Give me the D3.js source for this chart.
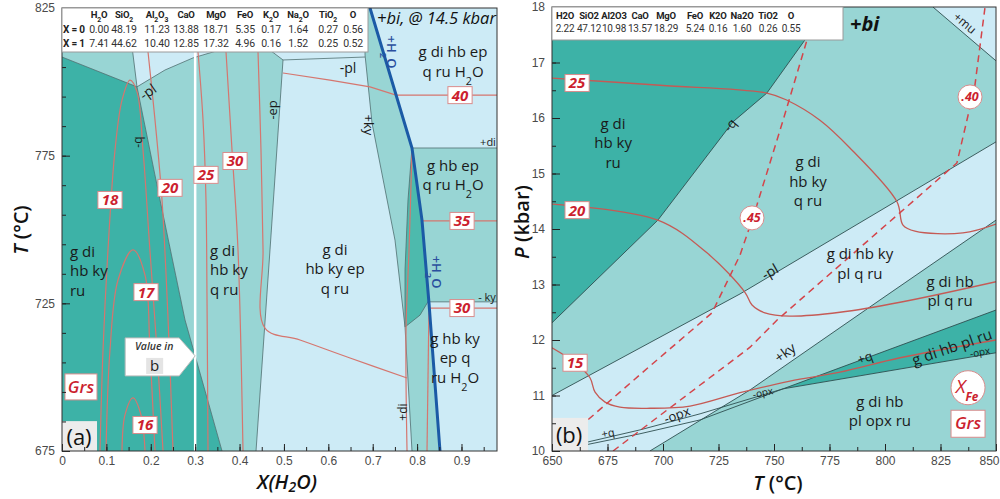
<!DOCTYPE html>
<html>
<head>
<meta charset="utf-8">
<script src="https://d3js.org/d3.v7.min.js"></script>
<style>
  body { margin: 0; background: #fff; }
  svg { display: block; }
  text { font-family: "Open Sans", "Noto Sans", sans-serif; }
  .tick text { font-family: "Liberation Sans", Arial, sans-serif; font-size: 12px; fill: #4a4a4a; }
  .tbl text { font-family: Roboto, "Liberation Sans", sans-serif; letter-spacing: -0.2px; }
</style>
</head>
<body>
<svg id="chart" width="1000" height="499"></svg>
<script>
// ---- bulk compositions (tables) ----
const oxides = ["H2O","SiO2","Al2O3","CaO","MgO","FeO","K2O","Na2O","TiO2","O"];
const compX0 = ["0.00","48.19","11.23","13.88","18.71","5.35","0.17","1.64","0.27","0.56"];
const compX1 = ["7.41","44.62","10.40","12.85","17.32","4.96","0.16","1.52","0.25","0.52"];
const compB  = ["2.22","47.12","10.98","13.57","18.29","5.24","0.16","1.60","0.26","0.55"];
// table column centres (layout, px)
const colA = [99,124,157,186,216,245,271,298,328,353];
const colB = [565,589,614,640,666,695,718,742,768,791];

// ---- ticks ----
const xTicksA = d3.range(0, 10).map(i => i / 10);
const xMinorA = d3.range(0, 20).map(i => i / 20);
const yTicksA = [675, 725, 775, 825];
const yMinorA = d3.range(675, 826, 10);
const xTicksB = d3.range(650, 851, 25);
const xMinorB = d3.range(650, 851, 12.5);
const yTicksB = d3.range(10, 19, 1);
const yMinorB = d3.range(0, 17).map(i => 10 + i / 2);

// ---- panel (a) fields, [X(H2O), T] ----
const aDarkField = [[0,808.4],[0.169,798.3],[0.2208,760],[0.2771,719.4],[0.3605,675],[0,675]];
const aTopLeftField = [[0,812],[0.1577,812],[0.169,798.3],[0,808.4]];
const aMidField = [[0.169,798.3],[0.232,804],[0.2951,808.1],[0.3717,811.5],[0.4529,812.5],[0.4979,807.4],
  [0.4686,743.1],[0.4371,675],[0.3605,675],[0.2771,719.4],[0.2208,760]];
const aWedgeField = [[0.6827,825],[0.6939,825],[0.7885,777.6],[0.811,753.2],[0.8268,725.1],[0.8516,675],
  [0.7885,675],[0.7728,717],[0.7502,746.4],[0.6984,786.1],[0.6827,809.1]];
const aWedgeCore = [[0.7885,777.6],[0.802,765.1],[0.811,753.2],[0.82,739.7],[0.8268,726.1],[0.8065,721],
  [0.7728,717],[0.7728,736.3],[0.7795,760]];
const aBandField = [[0.7885,777.6],[0.98,777.6],[0.98,725.5],[0.8268,725.5],[0.811,753.2]];

const aBoundaries = [
  [[0,808.4],[0.169,798.3]],
  [[0.169,798.3],[0.2208,760],[0.2771,719.4],[0.3605,675]],
  [[0.1577,812],[0.169,798.3]],
  [[0.169,798.3],[0.232,804],[0.2951,808.1],[0.3717,811.5],[0.4529,812.5],[0.4979,807.4]],
  [[0.4979,807.4],[0.4686,743.1],[0.4371,675]],
  [[0.4979,807.4],[0.6827,808.4]],
  [[0.6827,825],[0.6827,809.1],[0.6984,786.1],[0.7502,746.4],[0.7728,717],[0.7885,675]],
  [[0.7885,777.6],[0.98,777.6]],
  [[0.8268,725.5],[0.98,725.5]],
  [[0.7885,777.6],[0.7795,760],[0.7728,736.3],[0.7728,717],[0.8065,721],[0.8268,726.1]]
];
const aH2OLine = [[0.6939,825],[0.7885,777.6],[0.811,753.2],[0.8268,725.1],[0.8516,675]];
const aValueLine = [[0.3,675],[0.3,825]];

// grossular isopleths (smooth)
const aGrs = [
  [[0.0856,675],[0.0924,709.2],[0.1036,743.1],[0.1194,776.9],[0.1352,793.8],[0.1532,800.6],[0.169,796.6],
   [0.1825,776.9],[0.198,743.1],[0.214,709.2],[0.2276,675]],
  [[0.0991,675],[0.1081,709.2],[0.1262,732.9],[0.16,743.1],[0.187,734.6],[0.198,709.2],[0.2095,675]],
  [[0.1352,675],[0.1419,687.2],[0.16,693],[0.178,687.2],[0.187,675]],
  [[0.1938,810.1],[0.2095,787.1],[0.2253,760],[0.239,719.4],[0.2501,675]],
  [[0.3064,810.1],[0.3177,787.1],[0.3244,760],[0.3267,726.1],[0.3289,675]],
  [[0.3695,810.1],[0.383,776.9],[0.3965,743.1],[0.4078,675]],
  [[0.4416,810.1],[0.4483,776.9],[0.4529,743.1],[0.4573,716.6],[0.5362,712.6],[0.6489,706.5],[0.7773,699.7]],
  [[0.7885,776.9],[0.7818,743.1],[0.775,716],[0.7773,675]],
  [[0.8268,724.4],[0.8223,675]]
];
// straight isopleths
const aGrsStraight = [
  [[0.4979,803],[0.6038,800.6],[0.6939,798.3],[0.7525,795.5],[0.98,795.5]],
  [[0.811,752.9],[0.98,752.9]],
  [[0.8268,723.4],[0.98,723.4]]
];
const aGrsLabels = [
  ["18",0.1081,760],["17",0.1893,728.8],["16",0.187,683.8],["20",0.2433,764.1],["25",0.3244,768.5],
  ["30",0.3898,773.2],["40",0.8967,795.5],["35",0.9012,752.9],["30",0.9012,723.4]
];
const aFieldLabels = [
  { lines: ["g di","hb ky","ru"], at: [0.018, 736], anchor: "start" },
  { lines: ["g di","hb ky","q ru"], at: [0.3334, 736.3], anchor: "start" },
  { lines: ["g di","hb ky ep","q ru"], at: [0.615, 736.6], anchor: "middle" },
  { lines: ["g di hb ep","q ru H2O"], at: [0.8809, 806.8], anchor: "middle" },
  { lines: ["g hb ep","q ru H2O"], at: [0.8809, 768.3], anchor: "middle" },
  { lines: ["g hb ky","ep q","ru H2O"], at: [0.8854, 706.5], anchor: "middle" }
];
const aLineLabels = [
  { t: "-pl", at: [0.1938, 796.6], rot: -35, size: 14 },
  { t: "-q", at: [0.1712, 779.6], rot: -90, size: 12 },
  { t: "-ep", at: [0.4731, 790.5], rot: -90, size: 13 },
  { t: "+ky", at: [0.6917, 785.4], rot: 90, size: 13 },
  { t: "-pl", at: [0.6444, 804.7], rot: 0, size: 14 },
  { t: "+di", at: [0.7682, 688.2], rot: -90, size: 12 },
  { t: "+di", at: [0.9597, 779.6], rot: 0, size: 11 },
  { t: "- ky", at: [0.9575, 727.1], rot: 0, size: 11 }
];
const aWaterLabels = [[0.7435, 810.1], [0.8448, 735.6]];

// ---- panel (b) fields, [T, P] ----
const bDarkField = [[650,12.31],[697.7,14.16],[731.5,15.93],[746.8,16.45],[764,17.41],[775,18],[650,18]];
const bLightBand = [[650,10],[650,11.0],[734.7,12.83],[850,15.57],[850,14.16],[797.7,12.72],[739.2,11.1],[694.1,10]];
const bWedge = [[754.1,11.12],[850,12.54],[850,11.77]];
const bMuField = [[821.6,18],[850,18],[850,17.03]];
const bBoundaries = [
  [[650,12.31],[697.7,14.16],[731.5,15.93],[746.8,16.45],[764,17.41],[775,18]],
  [[650,11.0],[734.7,12.83],[850,15.57]],
  [[694.1,10],[739.2,11.1],[797.7,12.72],[850,14.16]],
  [[662.6,10.13],[689.6,10.38],[716.7,10.67],[754.1,11.12],[850,12.54]],
  [[662.6,10.09],[689.6,10.31],[716.7,10.56],[754.1,11.12],[850,11.77]],
  [[821.6,18],[850,17.03]]
];
const bGrs = [
  [[650,16.72],[698.6,16.59],[746.8,16.45],[755.9,16.32],[770.7,15.96],[784.2,15.46],[805.4,14.49],
   [808.1,14.07],[813.5,13.96],[835.1,13.93],[850,14.09]],
  [[650,14.45],[697.7,14.16],[719.8,13.57],[736.9,12.86],[740.1,12.63],[745.9,12.49],[757.2,12.43],
   [779.7,12.5],[806.8,12.68],[850,13.05]],
  [[650,11.86],[660.4,11.59],[667.1,11.32],[669.4,11.06],[673.9,10.88],[680.6,10.79],[694.1,10.77],
   [712.2,10.81],[734.7,11.05],[757.2,11.26],[779.7,11.42],[806.8,11.68],[850,12.0]]
];
const bXFe = [
  [[650,10],[694.1,11.53],[722.1,12.49],[734.7,13.53],[738.3,13.95],[742.3,14.43],[754.1,15.96],[764.9,17.41],[768.9,17.98]],
  [[677.5,10],[688.7,10.34],[739.2,11.87],[751.4,12.36],[832.4,15.19],[836.9,15.96],[840.5,16.59],[845,17.98]]
];
const bGrsLabels = [["25",661.3,16.63],["20",661.3,14.34],["15",660.4,11.59]];
const bXFeLabels = [[".45",740.1,14.2],[".40",838.3,16.38]];
const bFieldLabels = [
  { lines: ["g di","hb ky","ru"], at: [677.5, 15.55], rot: 0 },
  { lines: ["g di","hb ky","q ru"], at: [765.3, 14.86], rot: 0 },
  { lines: ["g di hb ky","pl q ru"], at: [788.7, 13.37], rot: 0 },
  { lines: ["g di hb","pl q ru"], at: [829.3, 12.88], rot: 0 },
  { lines: ["g di hb pl ru"], at: [830.2, 11.87], rot: -19 },
  { lines: ["g di hb","pl opx ru"], at: [797.7, 10.72], rot: 0 }
];
const bLineLabels = [
  { t: "+mu", at: [836, 17.71], rot: 40, size: 12 },
  { t: "-q", at: [730.2, 15.87], rot: -50, size: 13 },
  { t: "-pl", at: [748.2, 13.23], rot: -30, size: 14 },
  { t: "+ky", at: [755, 11.77], rot: -36, size: 14 },
  { t: "+q", at: [791, 11.68], rot: -20, size: 13 },
  { t: "+q", at: [675.2, 10.32], rot: -10, size: 11 },
  { t: "-opx", at: [706.3, 10.65], rot: -20, size: 13 },
  { t: "-opx", at: [745, 11.05], rot: -12, size: 10 },
  { t: "-opx", at: [842.8, 11.78], rot: -10, size: 10 }
];

// ---- scales ----
const xA = d3.scaleLinear().domain([0, 0.98]).range([62, 497]);
const yA = d3.scaleLinear().domain([675, 825]).range([451, 8]);
const xB = d3.scaleLinear().domain([650, 850]).range([552, 996]);
const yB = d3.scaleLinear().domain([10, 18]).range([451, 7]);

const DARK = "#3db2a7", MID = "#98d5d4", LIGHT = "#cdebf6", CORE = "#4dbaad";
const RED = "#cc1f2f", LINE = "#4f6f70";

const svg = d3.select("#chart");
const defs = svg.append("defs");

function clipFor(id, sx, sy) {
  const [x0, x1] = sx.range(), [y1, y0] = sy.range();
  defs.append("clipPath").attr("id", id).append("rect")
    .attr("x", x0).attr("y", y0).attr("width", x1 - x0).attr("height", y1 - y0);
  return svg.append("g").attr("clip-path", `url(#${id})`);
}

function poly(g, pts, sx, sy, fill) {
  g.append("path")
    .attr("d", d3.line().x(d => sx(d[0])).y(d => sy(d[1])).curve(d3.curveLinearClosed)(pts))
    .attr("fill", fill);
}
function path(g, pts, sx, sy, stroke, w, smooth, dash) {
  const gen = d3.line().x(d => sx(d[0])).y(d => sy(d[1]))
    .curve(smooth ? d3.curveCatmullRom.alpha(0.5) : d3.curveLinear);
  g.append("path").attr("d", gen(pts)).attr("fill", "none")
    .attr("stroke", stroke).attr("stroke-width", w)
    .attr("stroke-dasharray", dash || null);
}
// text with digits as subscripts
function chem(sel, str) {
  str.match(/[0-9]+|[^0-9]+/g).forEach(p => {
    if (/^[0-9]+$/.test(p)) sel.append("tspan").attr("baseline-shift", "sub").attr("font-size", "72%").text(p);
    else sel.append("tspan").text(p);
  });
}
function numBox(g, txt, x, y) {
  const w = txt.length * 8.6 + 7, h = 17;
  g.append("rect").attr("x", x - w / 2).attr("y", y - h / 2).attr("width", w).attr("height", h)
    .attr("fill", "#fff").attr("stroke", "#d98c8c");
  g.append("text").attr("x", x).attr("y", y).attr("dy", "0.36em").attr("text-anchor", "middle")
    .attr("fill", RED).attr("font-weight", 700).attr("font-style", "italic").attr("font-size", 15).text(txt);
}
function numCircle(g, txt, x, y) {
  g.append("circle").attr("cx", x).attr("cy", y).attr("r", 12).attr("fill", "#fff").attr("stroke", "#d98c8c");
  g.append("text").attr("x", x).attr("y", y).attr("dy", "0.36em").attr("text-anchor", "middle")
    .attr("fill", RED).attr("font-weight", 700).attr("font-style", "italic").attr("font-size", 12.5).text(txt);
}
function fieldLabel(g, lab, sx, sy, size) {
  const n = lab.lines.length, lh = 19.5;
  const t = g.append("g").attr("transform", `translate(${sx(lab.at[0])},${sy(lab.at[1])}) rotate(${lab.rot || 0})`);
  lab.lines.forEach((ln, i) => {
    const tx = t.append("text").attr("x", 0).attr("y", (i - (n - 1) / 2) * lh).attr("dy", "0.35em")
      .attr("text-anchor", lab.anchor || "middle").attr("font-size", size).attr("fill", "#1a1a1a");
    chem(tx, ln);
  });
}
function lineLabel(g, lab, sx, sy, color) {
  const tx = g.append("text")
    .attr("transform", `translate(${sx(lab.at[0])},${sy(lab.at[1])}) rotate(${lab.rot})`)
    .attr("text-anchor", "middle").attr("dy", "0.35em").attr("font-size", lab.size)
    .attr("fill", color || "#1a1a1a");
  chem(tx, lab.t);
  return tx;
}
function axes(sx, sy, xMaj, xMin, yMaj, yMin, xFmt, yFmt) {
  const [x0] = sx.range(), [y0] = sy.range();
  const gx = svg.append("g").attr("transform", `translate(0,${y0})`);
  gx.append("g").call(d3.axisBottom(sx).tickValues(xMin).tickSize(-4).tickFormat(""));
  gx.append("g").call(d3.axisBottom(sx).tickValues(xMaj).tickSize(-7).tickPadding(5).tickFormat(xFmt));
  const gy = svg.append("g").attr("transform", `translate(${x0},0)`);
  gy.append("g").call(d3.axisLeft(sy).tickValues(yMin).tickSize(-4).tickFormat(""));
  gy.append("g").call(d3.axisLeft(sy).tickValues(yMaj).tickSize(-8).tickPadding(7).tickFormat(yFmt));
  svg.selectAll(".domain").remove();
  svg.selectAll(".tick line").attr("stroke", "#222");
  return gx;
}
function frame(sx, sy) {
  const [x0, x1] = sx.range(), [y1, y0] = sy.range();
  svg.append("rect").attr("x", x0).attr("y", y0).attr("width", x1 - x0).attr("height", y1 - y0)
    .attr("fill", "none").attr("stroke", "#333").attr("stroke-width", 1);
}

// ================= panel (a) =================
const gA = clipFor("clipA", xA, yA);
gA.append("rect").attr("x", 62).attr("y", 8).attr("width", 435).attr("height", 443).attr("fill", LIGHT);
poly(gA, aTopLeftField, xA, yA, MID);
poly(gA, aMidField, xA, yA, MID);
poly(gA, aDarkField, xA, yA, DARK);
poly(gA, aWedgeField, xA, yA, MID);
poly(gA, aWedgeCore, xA, yA, CORE);
poly(gA, aBandField, xA, yA, MID);
aBoundaries.forEach(b => path(gA, b, xA, yA, LINE, 0.8, false));
aGrs.forEach(c => path(gA, c, xA, yA, "#d5766f", 1.2, true));
aGrsStraight.forEach(c => path(gA, c, xA, yA, "#d5766f", 1.2, false));
path(gA, aValueLine, xA, yA, "#fff", 2.5, false);
path(gA, aH2OLine, xA, yA, "#1b5aa6", 3, false);

aFieldLabels.forEach(l => fieldLabel(gA, l, xA, yA, 15));
aLineLabels.forEach(l => lineLabel(gA, l, xA, yA));
aWaterLabels.forEach(p => lineLabel(gA, { t: "+H2O", at: p, rot: 90, size: 13 }, xA, yA, "#2a4f9e")
  .attr("font-weight", 600));
aGrsLabels.forEach(l => numBox(gA, l[0], xA(l[1]), yA(l[2])));

// "Value in b" callout pointing at X = 0.3
{
  const tx = xA(0.3), ty = yA(707.2);
  gA.append("path")
    .attr("d", `M${tx},${ty} L${tx - 16},${ty - 18} L${tx - 70},${ty - 18} L${tx - 70},${ty + 20} L${tx - 16},${ty + 20} Z`)
    .attr("fill", "#fff").attr("stroke", "#bbb");
  gA.append("text").attr("x", tx - 41).attr("y", ty - 6).attr("text-anchor", "middle")
    .attr("font-size", 10.5).attr("font-style", "italic").attr("font-weight", 600).attr("fill", "#333").text("Value in");
  gA.append("rect").attr("x", tx - 49).attr("y", ty + 2).attr("width", 17).attr("height", 16).attr("fill", "#e4e4e4");
  gA.append("text").attr("x", tx - 40.5).attr("y", ty + 10).attr("dy", "0.36em").attr("text-anchor", "middle")
    .attr("font-size", 15).attr("fill", "#222").text("b");
}
// Grs key and (a)
{
  const x = xA(0.0428), y = yA(696.7);
  gA.append("rect").attr("x", x - 16).attr("y", y - 13).attr("width", 32).attr("height", 26)
    .attr("fill", "#fff").attr("stroke", "#d98c8c");
  gA.append("text").attr("x", x).attr("y", y).attr("dy", "0.36em").attr("text-anchor", "middle")
    .attr("fill", RED).attr("font-style", "italic").attr("font-weight", 600).attr("font-size", 17).text("Grs");
  const ax = xA(0.0406), ay = yA(679.7);
  gA.append("rect").attr("x", ax - 19).attr("y", ay - 16).attr("width", 36).attr("height", 32).attr("fill", "#ececec");
  gA.append("text").attr("x", ax - 1).attr("y", ay).attr("dy", "0.36em").attr("text-anchor", "middle")
    .attr("font-size", 22).attr("fill", "#111").text("(a)");
}
axes(xA, yA, xTicksA, xMinorA, yTicksA, yMinorA, d => d === 0 ? "0" : d3.format(".1f")(d), d3.format("d"));
frame(xA, yA);

// composition table (a)
{
  const t = svg.append("g").attr("class", "tbl");
  t.append("rect").attr("x", 62).attr("y", 8).attr("width", 306).attr("height", 44)
    .attr("fill", "#fff").attr("stroke", "#9a9a9a");
  oxides.forEach((o, i) => {
    const h = t.append("text").attr("x", colA[i]).attr("y", 18).attr("text-anchor", "middle")
      .attr("font-size", 9.5).attr("font-weight", 700).attr("fill", "#222");
    chem(h, o);
  });
  [["X = 0", compX0, 33], ["X = 1", compX1, 47]].forEach(([lab, vals, y]) => {
    t.append("text").attr("x", 63).attr("y", y).attr("font-size", 10).attr("font-weight", 700).attr("fill", "#222").text(lab);
    vals.forEach((v, i) => t.append("text").attr("x", colA[i]).attr("y", y).attr("text-anchor", "middle")
      .attr("font-size", 10.5).attr("fill", "#333").text(v));
  });
  svg.append("text").attr("x", 377).attr("y", 24).attr("font-size", 16.5).attr("font-style", "italic")
    .attr("fill", "#111").text("+bi, @ 14.5 kbar");
}

// ================= panel (b) =================
const gB = clipFor("clipB", xB, yB);
gB.append("rect").attr("x", 552).attr("y", 7).attr("width", 444).attr("height", 444).attr("fill", MID);
poly(gB, bLightBand, xB, yB, LIGHT);
poly(gB, bDarkField, xB, yB, DARK);
poly(gB, bWedge, xB, yB, DARK);
poly(gB, bMuField, xB, yB, LIGHT);
bBoundaries.forEach(b => path(gB, b, xB, yB, "#2f4f50", 0.9, false));
bGrs.forEach(c => path(gB, c, xB, yB, "#c55a55", 1.3, true));
bXFe.forEach(c => path(gB, c, xB, yB, "#d4444a", 1.5, false, "7,5"));

bFieldLabels.forEach(l => fieldLabel(gB, l, xB, yB, 15));
bLineLabels.forEach(l => lineLabel(gB, l, xB, yB));
bGrsLabels.forEach(l => numBox(gB, l[0], xB(l[1]), yB(l[2])));
bXFeLabels.forEach(l => numCircle(gB, l[0], xB(l[1]), yB(l[2])));
{
  // key: XFe and Grs
  const x = xB(837.4), y = yB(11.14);
  gB.append("circle").attr("cx", x).attr("cy", y).attr("r", 17).attr("fill", "#fff").attr("stroke", "#d98c8c");
  const k = gB.append("text").attr("x", x - 1).attr("y", y).attr("dy", "0.3em").attr("text-anchor", "middle")
    .attr("fill", RED).attr("font-style", "italic").attr("font-size", 19);
  k.append("tspan").text("X");
  k.append("tspan").attr("baseline-shift", "sub").attr("font-size", "62%").attr("font-weight", 700).text("Fe");
  const gy = yB(10.5);
  gB.append("rect").attr("x", x - 17).attr("y", gy - 13).attr("width", 34).attr("height", 27)
    .attr("fill", "#fff").attr("stroke", "#d98c8c");
  gB.append("text").attr("x", x).attr("y", gy).attr("dy", "0.36em").attr("text-anchor", "middle")
    .attr("fill", RED).attr("font-style", "italic").attr("font-weight", 600).attr("font-size", 17).text("Grs");
  const bx = xB(656.8), by = yB(10.29);
  gB.append("rect").attr("x", bx - 15).attr("y", by - 17).attr("width", 36).attr("height", 34).attr("fill", "#ececec");
  gB.append("text").attr("x", bx + 2).attr("y", by).attr("dy", "0.36em").attr("text-anchor", "middle")
    .attr("font-size", 22).attr("fill", "#111").text("(b)");
}
const gxB = axes(xB, yB, xTicksB, xMinorB, yTicksB, yMinorB, d3.format("d"), d3.format("d"));
gxB.selectAll(".tick text").filter(d => d === 850).attr("text-anchor", "end").attr("dx", 3);
frame(xB, yB);

// composition table (b)
{
  const t = svg.append("g").attr("class", "tbl");
  t.append("rect").attr("x", 552).attr("y", 7).attr("width", 291).attr("height", 33)
    .attr("fill", "#fff").attr("stroke", "#9a9a9a");
  oxides.forEach((o, i) => t.append("text").attr("x", colB[i]).attr("y", 19).attr("text-anchor", "middle")
    .attr("font-size", 9.5).attr("font-weight", 700).attr("fill", "#222").text(o));
  compB.forEach((v, i) => t.append("text").attr("x", colB[i]).attr("y", 32).attr("text-anchor", "middle")
    .attr("font-size", 10).attr("fill", "#333").text(v));
  svg.append("text").attr("x", 850).attr("y", 31).attr("font-size", 20).attr("font-style", "italic")
    .attr("font-weight", 700).attr("fill", "#111").text("+bi");
}

// ---- axis titles ----
function title(x, y, rot, parts) {
  const t = svg.append("text").attr("transform", `translate(${x},${y}) rotate(${rot})`)
    .attr("text-anchor", "middle").attr("font-size", 20).attr("font-weight", 600).attr("fill", "#111");
  parts.forEach(([s, it, sub]) => {
    const sp = t.append("tspan").text(s).attr("font-style", it ? "italic" : null);
    if (sub) sp.attr("baseline-shift", "-20%").attr("font-size", "70%");
  });
}
title(28, 230, -90, [["T", true], [" (°C)", false]]);
title(287, 489, 0, [["X(H", true], ["2", true, true], ["O)", true]]);
title(529, 222, -90, [["P", true], [" (kbar)", false]]);
title(778, 490, 0, [["T", true], [" (°C)", false]]);
</script>
</body>
</html>
